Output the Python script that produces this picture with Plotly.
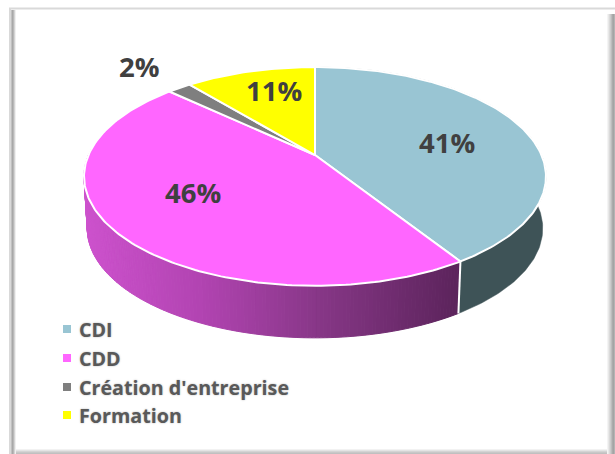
import math
import plotly.graph_objects as go

categories = ["CDI", "CDD", "Création d'entreprise", "Formation"]
values = [41, 46, 2, 11]

TOP = ["#99C5D3", "#FF66FF", "#7F7F7F", "#FFFF00"]
WALL_BLUE = "#3E5357"
PINK_STOPS = [(85, (205, 82, 205)), (200, (178, 68, 178)), (320, (135, 55, 135)), (458, (92, 36, 92))]
LABEL_POS = [(447, 142), (193, 192), (139, 66), (274, 90)]
LEGEND_Y = [329, 358, 387, 415]
W, H = 615, 454
CX, CY, A, B, K = 315, 155, 226.5, 105.2, 0.196
DEPTH, SHRINK = 52, 0.986


def pt(frac, r=1.0):
    t = 2 * math.pi * frac
    u, v = r * math.sin(t), r * math.cos(t)
    d = 1 + K * v
    return CX + A * u / d, CY - B * v / d


def low(p):
    return CX + (p[0] - CX) * SHRINK, p[1] + DEPTH


def arc(f0, f1, n=None):
    n = n or max(3, int(abs(f1 - f0) * 360))
    return [pt(f0 + (f1 - f0) * i / n) for i in range(n + 1)]


def pink(x):
    s = PINK_STOPS
    if x <= s[0][0]:
        c = s[0][1]
    elif x >= s[-1][0]:
        c = s[-1][1]
    else:
        for (x0, c0), (x1, c1) in zip(s, s[1:]):
            if x0 <= x <= x1:
                f = (x - x0) / (x1 - x0)
                c = tuple(a + (b - a) * f for a, b in zip(c0, c1))
                break
    return "rgb(%d,%d,%d)" % tuple(c)


fig = go.Figure()


def poly(points, fill, line="white", width=0.0):
    xs = [p[0] for p in points] + [points[0][0]]
    ys = [p[1] for p in points] + [points[0][1]]
    fig.add_trace(go.Scatter(x=xs, y=ys, mode="lines", fill="toself", fillcolor=fill,
                             line=dict(color=line, width=width), hoverinfo="skip", showlegend=False))


total = sum(values)
edges = [0.0]
for v in values:
    edges.append(edges[-1] + v / total)

# Side walls
a = arc(edges[0], edges[1])
poly(a + [low(p) for p in reversed(a)], WALL_BLUE, WALL_BLUE, 0.5)
a = arc(edges[1], 0.76, 160)
for p, q in zip(a, a[1:]):
    c = pink((p[0] + q[0]) / 2)
    poly([p, q, low(q), low(p)], c, c, 1)
s0 = pt(edges[1])
fig.add_trace(go.Scatter(x=[s0[0], low(s0)[0]], y=[s0[1], low(s0)[1]], mode="lines",
                         line=dict(color="white", width=2), hoverinfo="skip", showlegend=False))

# Top faces
for i, name in enumerate(categories):
    poly([(CX, CY)] + arc(edges[i], edges[i + 1]), TOP[i], "white", 2)

# Legend keys and text
annotations = []
for i, name in enumerate(categories):
    fig.add_trace(go.Scatter(x=[67], y=[LEGEND_Y[i]], mode="markers", name=name, showlegend=False,
                             marker=dict(symbol="square", size=8, color=TOP[i]), hoverinfo="name"))
    annotations.append(dict(x=77, y=LEGEND_Y[i], text="<b>%s</b>" % name, xanchor="left", yanchor="middle",
                            showarrow=False,
                            font=dict(family="Open Sans", size=19.7, color="#595959",
                                      shadow="0px 0px 2px rgba(0,0,0,0.3)")))
    annotations.append(dict(x=LABEL_POS[i][0], y=LABEL_POS[i][1], text="<b>%d%%</b>" % values[i], showarrow=False,
                            font=dict(family="Open Sans", size=27.5, color="#404040")))

# Chart frame
shapes = [
    dict(type="line", x0=9, x1=615, y0=8.5, y1=8.5, line=dict(color="#D9D9D9", width=2), layer="below"),
    dict(type="line", x0=10, x1=10, y0=8, y1=454, line=dict(color="#D9D9D9", width=2), layer="below"),
]
for x, c in [(11.5, "#C0C0C0"), (12.5, "#A8A8A8"), (13.5, "#B8B8B8"), (14.5, "#D4D4D4"), (15.5, "#F0F0F0")]:
    shapes.append(dict(type="line", x0=x, x1=x, y0=10, y1=454, line=dict(color=c, width=1), layer="below"))
for y, c in [(449.5, "#F2F2F2"), (450.5, "#E4E4E4"), (451.5, "#D4D4D4"), (452.5, "#C8C8C8"), (453.5, "#C0C0C0")]:
    shapes.append(dict(type="line", x0=16, x1=607, y0=y, y1=y, line=dict(color=c, width=1), layer="below"))
for x, c in [(607.5, "#F4F4F4"), (608.5, "#E8E8E8"), (609.5, "#DADADA"), (610.5, "#CCCCCC"),
             (611.5, "#BCBCBC"), (612.5, "#ABABAB"), (613.5, "#A4A4A4"), (614.5, "#B4B4B4")]:
    shapes.append(dict(type="line", x0=x, x1=x, y0=14, y1=454, line=dict(color=c, width=1), layer="below"))

fig.update_layout(width=W, height=H, margin=dict(l=0, r=0, t=0, b=0), paper_bgcolor="white", plot_bgcolor="white",
                  showlegend=False, shapes=shapes, annotations=annotations,
                  xaxis=dict(range=[0, W], visible=False, fixedrange=True),
                  yaxis=dict(range=[H, 0], visible=False, fixedrange=True))
fig.write_html("out.html", config={"displayModeBar": False},
               post_script="document.body.style.margin='0';document.body.style.overflow='hidden';")
